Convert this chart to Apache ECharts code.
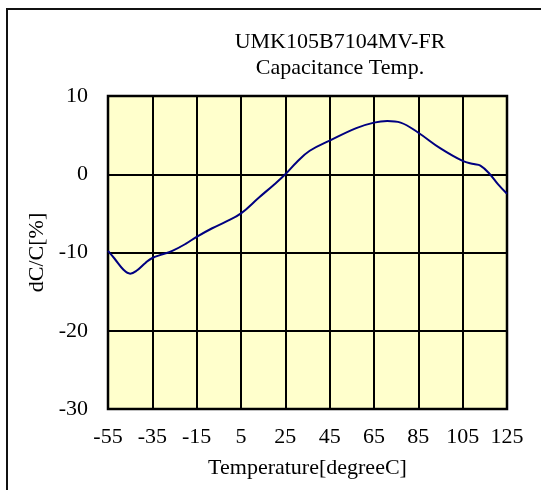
<!DOCTYPE html>
<html>
<head>
<meta charset="utf-8">
<script src="https://cdn.jsdelivr.net/npm/echarts@6/dist/echarts.min.js"></script>
<style>
  html, body { margin: 0; padding: 0; background: #fff; }
  #chart { width: 541px; height: 490px; }
</style>
</head>
<body>
<div id="chart"></div>
<script>
// 温度特性データ
const temps = [-55, -52, -48, -45, -42, -38, -35, -30, -26, -20, -15, -8, -2, 5, 13, 20, 25, 30, 36, 45, 57, 65, 71, 77, 85, 95, 105, 110, 113, 117, 121, 125]
const dcValues = [-9.8, -10.8, -12.2, -12.7, -12.3, -11.3, -10.7, -10.2, -9.8, -8.9, -8.0, -6.9, -6.1, -5.0, -3.0, -1.3, 0, 1.5, 3.0, 4.3, 5.9, 6.6, 6.8, 6.6, 5.3, 3.3, 1.7, 1.3, 1.1, 0.1, -1.3, -2.5]
const xTicks = [-55, -35, -15, 5, 25, 45, 65, 85, 105, 125]
const yTicks = [-30, -20, -10, 0, 10]

// x軸は -55 起点なので、0 起点の軸にずらして目盛りを合わせる
const X_START = xTicks[0]
const seriesData = temps.map((t, i) => [t - X_START, dcValues[i]])

const FONT = '"Liberation Serif", "Times New Roman", serif'

const chart = echarts.init(document.getElementById('chart'))
chart.setOption({
  animation: false,
  backgroundColor: '#fff',
  title: {
    text: 'UMK105B7104MV-FR',
    subtext: 'Capacitance Temp.',
    left: 335,
    top: 26,
    textAlign: 'center',
    itemGap: 3,
    textStyle: { fontFamily: FONT, fontSize: 22, fontWeight: 'normal', color: '#000', lineHeight: 23 },
    subtextStyle: { fontFamily: FONT, fontSize: 22, color: '#000', lineHeight: 23 }
  },
  grid: {
    left: 108,
    top: 96,
    right: 34,
    bottom: 81,
    show: true,
    backgroundColor: '#FFFFCC',
    borderColor: '#000',
    borderWidth: 2.5
  },
  xAxis: {
    type: 'value',
    min: 0,
    max: xTicks[xTicks.length - 1] - X_START,
    interval: 20,
    name: 'Temperature[degreeC]',
    nameLocation: 'middle',
    nameGap: 48,
    nameTextStyle: { fontFamily: FONT, fontSize: 22, color: '#000' },
    axisLine: { show: false },
    axisTick: { show: false },
    axisLabel: {
      fontFamily: FONT, fontSize: 22, color: '#000', margin: 17,
      formatter: v => String(v + X_START)
    },
    splitLine: { show: true, lineStyle: { color: '#000', width: 2 } }
  },
  yAxis: {
    type: 'value',
    min: yTicks[0],
    max: yTicks[yTicks.length - 1],
    interval: 10,
    name: 'dC/C[%]',
    nameLocation: 'middle',
    nameGap: 60,
    nameTextStyle: { fontFamily: FONT, fontSize: 22, color: '#000', padding: [0, 0, 0, 0] },
    axisLine: { show: false },
    axisTick: { show: false },
    axisLabel: { fontFamily: FONT, fontSize: 22, color: '#000', margin: 20 },
    splitLine: { show: true, lineStyle: { color: '#000', width: 2 } }
  },
  graphic: [
    {
      type: 'polyline',
      shape: { points: [[7, 490], [7, 9], [541, 9]] },
      style: { stroke: '#111', lineWidth: 2, fill: null }
    }
  ],
  series: [
    {
      type: 'line',
      data: seriesData,
      smooth: 0.4,
      symbol: 'none',
      lineStyle: { color: '#000080', width: 2 }
    }
  ]
})
</script>
</body>
</html>
